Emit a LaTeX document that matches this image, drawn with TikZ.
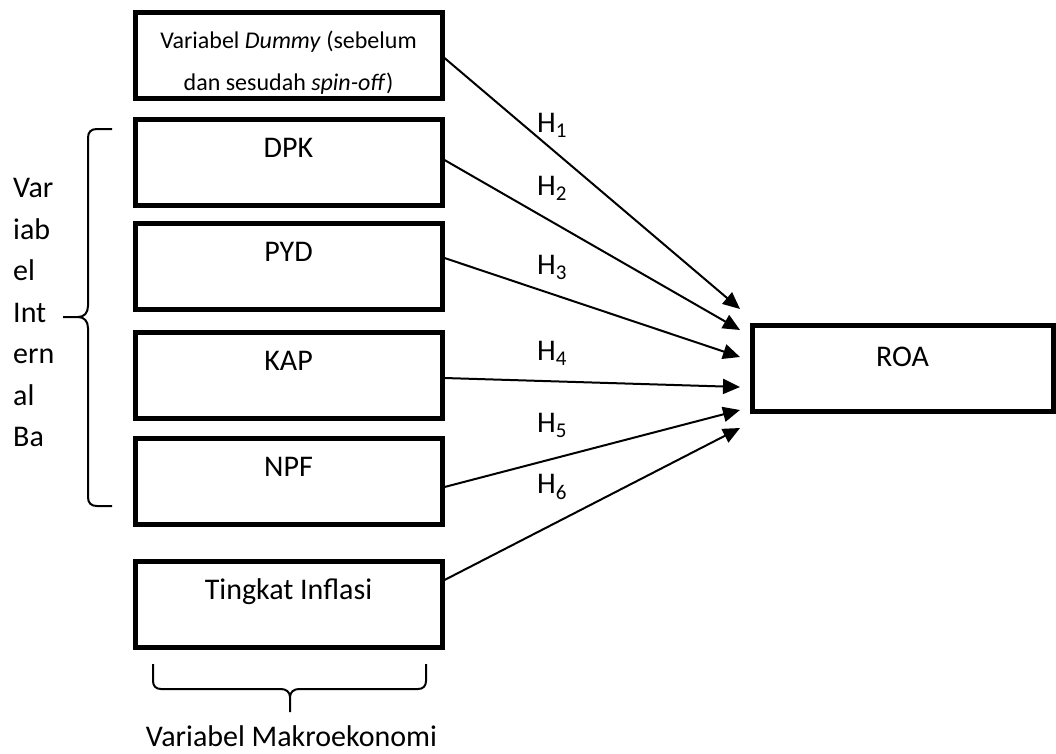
\documentclass[tikz,border=0pt]{standalone}
\usepackage{fontspec}
\setmainfont{Carlito}
\usetikzlibrary{arrows.meta,positioning}

\begin{document}
\begin{tikzpicture}[x=1pt, y=-1pt,
            font = \fontsize{30}{36}\selectfont,
            box/.style = {draw, line width=5pt, minimum width=307pt, minimum height=86pt,
                inner sep=0pt, text height=20pt, text depth=30pt},
            arr/.style = {line width=2pt, -{Triangle[length=17pt,width=15pt]}},
            brace/.style = {line width=2pt},
            hlab/.style = {inner sep=0pt}]
            \useasboundingbox (0,0) rectangle (1056,753);
            % boxes on the left
            \node[box] (dummy) at (288.5,55.5) {};
            \node[align=center, font=\fontsize{24}{42}\selectfont] (dummylbl) at (288.5,63)
                {Variabel \textit{Dummy} (sebelum\\dan sesudah \textit{spin-off})};
            \node[box] (dpk) at (288.5,162.5) {DPK};
            \node[box] (pyd) at (288.5,266.5) {PYD};
            \node[box] (kap) at (288.5,375) {KAP};
            \node[box] (npf) at (288.5,481) {NPF};
            \node[box] (infl) at (288.5,604) {Tingkat Inflasi};
            % dependent variable
            \node[box, minimum width=301pt, text depth=23.7pt] (roa) at (902.5,368.5) {ROA};
            \coordinate (t1) at ([xshift=-9.5pt,yshift=59.5pt]roa.west);
            \coordinate (t2) at ([xshift=-9.5pt,yshift=38.5pt]roa.west);
            \coordinate (t3) at ([xshift=-9.5pt,yshift=11.5pt]roa.west);
            \coordinate (t4) at ([xshift=-9.5pt,yshift=-18.5pt]roa.west);
            \coordinate (t5) at ([xshift=-9.5pt,yshift=-41.5pt]roa.west);
            \coordinate (t6) at ([xshift=-9.5pt,yshift=-59.5pt]roa.west);
            % hypotheses
            \draw[arr] ([yshift=-2.5pt]dummy.east) -- (t1);
            \draw[arr] ([yshift=2.5pt]dpk.east) -- (t2);
            \draw[arr] ([yshift=8.5pt]pyd.east) -- (t3);
            \draw[arr] ([yshift=-3pt]kap.east) -- (t4);
            \draw[arr] ([yshift=-6pt]npf.east) -- (t5);
            \draw[arr] ([yshift=24pt]infl.east) -- (t6);
            \node[hlab] (h1) at (552,125) {H\textsubscript{1}};
            \node[hlab] (h2) at (552,188) {H\textsubscript{2}};
            \node[hlab] (h3) at (552,267) {H\textsubscript{3}};
            \node[hlab] (h4) at (552,353) {H\textsubscript{4}};
            \node[hlab] (h5) at (552,425) {H\textsubscript{5}};
            \node[hlab] (h6) at (552,487) {H\textsubscript{6}};
            % brace for the internal variables
            \draw[brace] (112,129) -- (97,129) .. controls (91,129) and (88,132) .. (88,138)
                -- (88,306) .. controls (88,313) and (84,317) .. (78,317) -- (63,317);
            \draw[brace] (78,317) .. controls (84,317) and (88,321) .. (88,328)
                -- (88,497) .. controls (88,503) and (91,506) .. (97,506) -- (112,506);
            \foreach \t [count=\i from 0] in {Var,iab,el,Int,ern,al,Ba}
                \node[anchor=base west, inner sep=0pt] (side\i) at (13,197.5+41.5*\i) {\t};
            % brace for the macro variable
            \draw[brace] (153,664) -- (153,681) .. controls (153,686) and (156,689) .. (161,689)
                -- (281,689) .. controls (286,689) and (290,692) .. (290,697) -- (290,712);
            \draw[brace] (290,697) .. controls (290,692) and (294,689) .. (299,689)
                -- (418,689) .. controls (423,689) and (426,686) .. (426,681) -- (426,664);
            \node (makro) at (291.5,736) {Variabel Makroekonomi};
        \end{tikzpicture}
\end{document}
